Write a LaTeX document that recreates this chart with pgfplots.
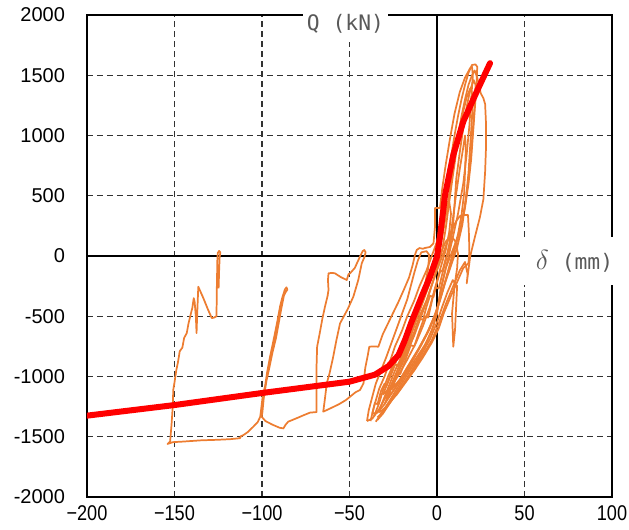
\documentclass[border=0pt]{standalone}
\usepackage{pgfplots}
\pgfplotsset{compat=1.18}
\usepackage{fontspec}
\setmainfont{Liberation Sans}
\newfontfamily\narrowfont[FakeStretch=0.85]{Liberation Sans}
\newfontfamily\labelfont{DejaVu Sans Mono}
\definecolor{orng}{RGB}{237,125,49}
\definecolor{gridgray}{RGB}{50,50,50}
\definecolor{labgray}{RGB}{89,89,89}

\begin{document}
\begin{tikzpicture}
\begin{axis}[
  name=ax,
  scale only axis,
  width=393.75pt, height=361.5pt,
  xmin=-200, xmax=100, ymin=-2000, ymax=2000,
  xtick={-200,-150,-100,-50,0,50,100},
  xticklabels={−200,−150,−100,−50,0,50,100},
  ytick={-2000,-1500,-1000,-500,0,500,1000,1500,2000},
  yticklabels={-2000,-1500,-1000,-500,0,500,1000,1500,2000},
  major tick length=0pt,
  grid=major,
  major grid style={gridgray, line width=1pt, dash pattern=on 4.5pt off 3pt},
  axis line style={black, line width=1.1pt},
  xticklabel style={font=\narrowfont\fontsize{16}{18}\selectfont, yshift=-3pt},
  yticklabel style={font=\fontsize{15}{18}\selectfont, xshift=-13pt},
  hyst/.style={color=orng, line width=1.3pt, line join=round, mark=none},
]

% zero axes
\addplot[black, line width=1.1pt] coordinates {(0,-2000) (0,2000)};
\addplot[black, line width=1.1pt] coordinates {(-200,0) (100,0)};

% large negative cycles
\addplot[hyst] coordinates {
(-124.8,-268) (-124.5,-120) (-124.2,-10) (-123.8,30) (-124.5,42) (-125.3,25) (-125.5,-30)
(-125.8,-260) (-126,-500) (-127.5,-512) (-128.7,-515) (-131,-440) (-133.5,-350) (-136.4,-255)
(-137,-470) (-137.4,-640) (-137.8,-500) (-138.5,-380) (-139,-350) (-139.8,-430) (-140.5,-470)
(-142,-560) (-143,-640) (-144.5,-680) (-145.5,-760) (-147,-790) (-148,-880) (-149,-950)
(-150,-1050) (-150.7,-1110) (-151,-1250) (-151.7,-1400) (-152.5,-1540) (-154,-1560)
(-151,-1545) (-145,-1540) (-135,-1530) (-125,-1525) (-118,-1520) (-112.6,-1512) (-112,-1495)
(-110.7,-1487) (-108,-1460) (-105,-1417) (-102.5,-1380) (-101,-1334) (-100.3,-1250)
(-99.5,-1150) (-98.3,-1085) (-97,-960) (-95.4,-836) (-94,-740) (-92.6,-642) (-91.2,-540)
(-89.7,-421) (-88.5,-350) (-86.9,-277) (-86,-260) (-85.5,-280) (-86.5,-300)
(-87.5,-330) (-89,-440) (-90.5,-560) (-92,-680) (-94,-800) (-96,-940) (-97.5,-1040)
(-99,-1180) (-99.8,-1300) (-100.2,-1334) (-98,-1370) (-94,-1400) (-90,-1425) (-87.8,-1431)
(-86.5,-1400) (-85,-1375) (-80,-1345) (-76,-1320) (-72.6,-1300) (-68.8,-1295)
(-68.8,-1100) (-68.8,-900) (-68.5,-753) (-67,-640) (-65.5,-520) (-64,-420) (-62.5,-330)
(-62,-282) (-62.3,-200) (-62,-144) (-60,-140) (-58.3,-144) (-55,-175) (-51.6,-199)
(-50.5,-150) (-49.7,-144) (-47,-100) (-44,-5) (-42.5,40) (-41.5,50) (-40.8,30) (-41.5,-10)
(-43,-61) (-45,-200) (-47.8,-338) (-51,-440) (-55.4,-559) (-57.5,-700) (-59.5,-850)
(-61.5,-980) (-63,-1057) (-64,-1180) (-65,-1292) (-61,-1265) (-56,-1230) (-52,-1195)
(-49.7,-1168) (-46.5,-1130) (-44,-1112) (-42,-1057) (-41,-930) (-39.5,-820) (-38.7,-753)
(-36,-750) (-33.5,-753) (-31,-650) (-28,-560) (-25,-470) (-22,-380) (-19,-282) (-16,-180)
(-14,-80) (-12.6,8) (-11.6,50) (-10,66) (-8,60) (-7,66) (-4,75) (-2,105) (-1.1,250)
(-1.1,398) (1.7,398) (3,560) (5,760) (7.5,980) (10,1180) (13,1360) (16,1480) (19,1560)
(20,1570) (20.5,1500) (19.5,1300) (18.5,1080) (17,850) (15,600) (12,350) (9,150) (6,-40)
(3,-230) (0.5,-420) (-2,-580) (-6,-720) (-11,-850) (-16,-960) (-21,-1080) (-26,-1200)
(-31,-1310) (-34,-1360)
};

% cycles around the origin
\addplot[hyst] coordinates {
(-38,-1370) (-36,-1250) (-33,-1100) (-30,-1000) (-27,-880) (-24,-750) (-20,-620) (-17,-500)
(-13,-370) (-10,-250) (-6,-120) (-3,0) (0,120) (2,260) (4,430) (6,620) (8,820) (10,1000)
(12,1160) (14,1300) (16,1420) (18,1520) (20,1585) (22,1590) (23,1570) (22.5,1400)
(21.5,1200) (20.5,1000) (19.5,800) (18,600) (16,400) (13,200) (9,50) (5,-100) (2,-280)
(0,-480) (-3,-620) (-7,-740) (-12,-850) (-17,-960) (-22,-1080) (-27,-1200) (-31,-1290)
(-35,-1375)
};
\addplot[hyst] coordinates {
(-36,-1330) (-33,-1220) (-31,-1120) (-28,-1000) (-24,-870) (-20,-740) (-16,-600) (-12,-460)
(-8,-330) (-4,-200) (-1,-60) (2,80) (4,240) (6,420) (8,620) (10,820) (12,1000) (14,1160)
(16,1300) (18,1420) (20,1500) (21.5,1540) (23,1480) (25,1350) (26.5,1310) (27.5,1260)
(28,1100) (28,900) (27.5,700) (26.5,470) (24.5,320) (21.7,160) (19,0) (17,-227) (17.5,-150)
(16,-50) (13,-120) (9,-260) (5,-400) (1,-560) (-3,-700) (-8,-820) (-13,-930) (-19,-1060)
(-25,-1180) (-30,-1280) (-34,-1340)
};
\addplot[hyst] coordinates {
(-33,-1280) (-30,-1170) (-27,-1060) (-24,-950) (-20,-830) (-16,-700) (-13,-580) (-10,-460)
(-7,-340) (-4,-220) (-1,-100) (2,20) (5,120) (8,170) (10.5,120) (12,20) (11.5,-100)
(10,-250) (8.6,-476) (9.3,-753) (10.3,-614) (11,-400) (11.5,-250) (9,-200) (6,-300)
(3,-420) (0,-550) (-4,-690) (-9,-820) (-14,-940) (-19,-1060) (-24,-1160) (-29,-1250)
(-33,-1300)
};
\addplot[hyst] coordinates {
(-30,-1230) (-27,-1130) (-24,-1020) (-20,-900) (-17,-790) (-13,-660) (-10,-540) (-7,-420)
(-4,-290) (-1,-160) (2,-40) (5,80) (8,200) (11,290) (13,330) (15,340) (17.7,340) (18.2,200)
(18.5,40) (18,-60) (15,-100) (12,-200) (8,-330) (4,-470) (1,-600) (-3,-720) (-8,-840)
(-13,-950) (-18,-1050) (-23,-1150) (-28,-1230)
};
\addplot[hyst] coordinates {
(-40,-1370) (-39,-1280) (-37,-1170) (-35,-1060) (-32,-950) (-29,-840) (-26,-720) (-23,-600)
(-20,-480) (-17,-360) (-15,-250) (-13,-140) (-11,-40) (-9,30) (-6,40) (-4.5,10) (-5,-100)
(-7,-250) (-10,-420) (-13,-580) (-17,-740) (-21,-890) (-25,-1030) (-29,-1160) (-33,-1270)
(-37,-1350) (-40,-1370)
};
\addplot[hyst] coordinates {
(-26,-1110) (-23,-1000) (-20,-880) (-17,-760) (-13,-630) (-10,-500) (-6,-370) (-3,-240)
(0,-100) (3,50) (5,230) (7,450) (9,660) (11,860) (13,1040) (15,1200) (17,1320) (19,1390)
(20.5,1330) (20,1150) (19,920) (18,690) (16.5,470) (14.5,260) (11.5,70) (8,-80) (4.5,-230)
(1.5,-380) (-2,-520) (-6,-650) (-11,-780) (-16,-900) (-21,-1020) (-26,-1110)
};
\addplot[hyst] coordinates {
(-31,-1150) (-28,-1050) (-25,-940) (-22,-820) (-18,-690) (-15,-560) (-11,-430) (-8,-300)
(-5,-170) (-2,-40) (1,100) (3,250) (5,400) (7,450) (8,350) (7,200) (5,50) (2,-100)
(-1,-260) (-4,-420) (-8,-580) (-12,-720) (-17,-860) (-22,-990) (-27,-1100) (-31,-1150)
};
\addplot[hyst] coordinates {
(-37,-1310) (-35.5,-1220) (-34,-1230) (-32,-1120) (-30,-1060) (-29,-1080) (-26,-960)
(-24,-900) (-22,-910) (-19,-780) (-17,-720) (-15,-730) (-12,-600) (-10,-520) (-8,-530)
(-6,-420) (-4,-330) (-2,-340) (0,-220) (2,-120) (3,-130) (5,-20) (7,60) (9,220) (10,420)
(11,640) (13,860) (15,1060) (17,1240) (19,1380) (21,1460) (22,1420) (21.5,1250) (20.5,1050)
(19.5,850) (18,640) (16,430) (14,260) (11,100) (8,-60) (5,-200) (2,-340) (-1,-480)
(-5,-620) (-10,-760) (-15,-880) (-20,-1000) (-25,-1120) (-30,-1230) (-34,-1300) (-37,-1310)
};
\addplot[hyst] coordinates {
(-29,-1190) (-26,-1090) (-23,-970) (-21,-980) (-18,-860) (-15,-740) (-13,-750) (-10,-620)
(-7,-500) (-5,-510) (-3,-380) (-1,-260) (1,-270) (3,-150) (5,-40) (7,100) (9,300) (11,520)
(13,720) (15,900) (16,1000) (16.5,900) (16,700) (15.5,520) (14,340) (12,180) (9,20)
(6,-140) (3,-300) (0,-450) (-4,-600) (-9,-740) (-14,-870) (-19,-990) (-24,-1100) (-29,-1190)
};

% skeleton curve
\addplot[red, line width=4.5pt, line join=round, line cap=round] coordinates {
(-200,-1325) (-150,-1237) (-100,-1137) (-50,-1043) (-35.5,-985) (-27.8,-915) (-22,-822)
(-18.3,-697) (-14.5,-545) (-8.8,-338) (-4,-172) (0,-5) (1.7,160) (4.6,506) (9.3,838)
(15,1115) (22.7,1364) (30.3,1600)
};

\coordinate (qpos) at (axis cs:-52.3,1926);
\coordinate (dpos) at (axis cs:78.6,-41.5);
\end{axis}

\node[fill=white, inner sep=0pt, minimum width=63.75pt, minimum height=27.75pt,
      text=labgray, font=\labelfont\fontsize{16}{18}\selectfont] at (qpos) {Q (kN)};
\node[fill=white, inner sep=0pt, minimum width=81.75pt, minimum height=36pt,
      text=labgray, font=\labelfont\fontsize{16}{18}\selectfont] at (dpos)
      {{\fontsize{21}{22}\selectfont$\delta$} (mm)};

\pgfresetboundingbox
\path[use as bounding box] ([xshift=-65.25pt,yshift=-24.75pt]ax.south west)
  rectangle ([xshift=12.75pt,yshift=11.25pt]ax.north east);
\end{tikzpicture}
\end{document}
